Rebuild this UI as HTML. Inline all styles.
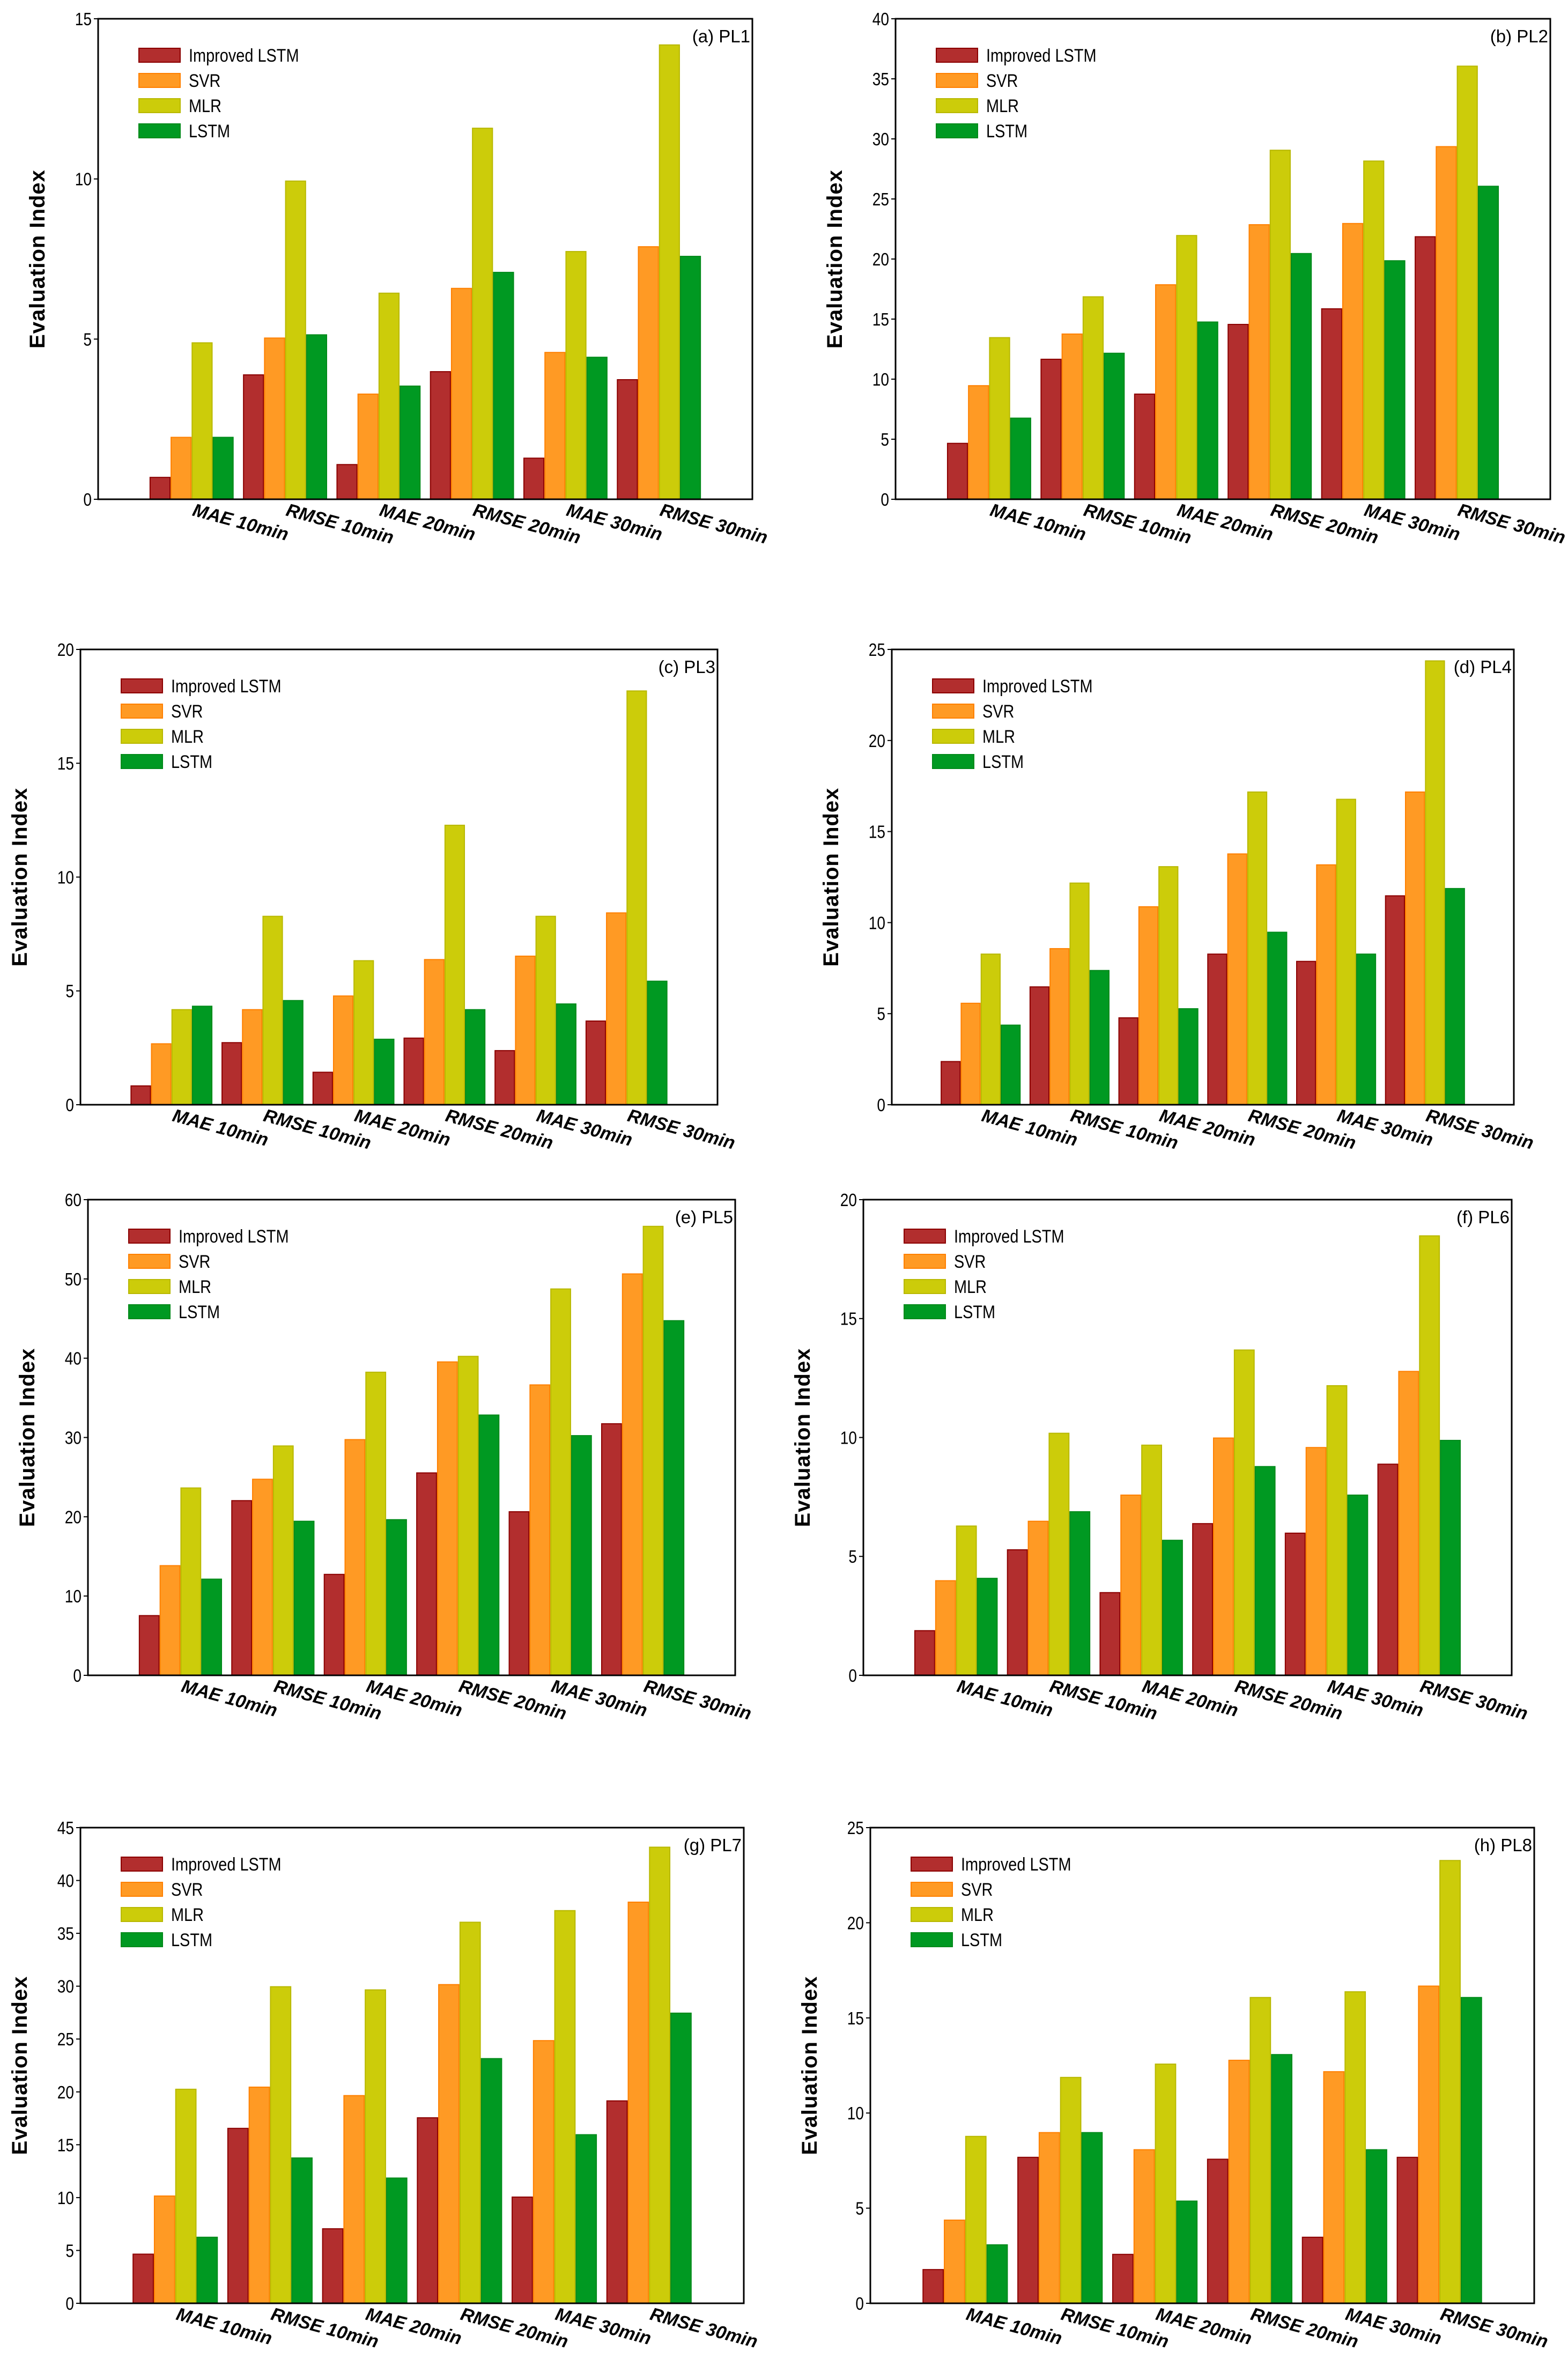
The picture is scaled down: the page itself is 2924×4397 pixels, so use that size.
<!DOCTYPE html>
<html><head><meta charset="utf-8">
<style>
html,body{margin:0;padding:0;background:#fff;}
svg{display:block;}
text{font-family:"Liberation Sans",sans-serif;}
</style></head>
<body>
<svg id="chart" width="2924" height="4397" viewBox="0 0 2924 4397" xmlns="http://www.w3.org/2000/svg"></svg>
<script>
const categories = ["MAE 10min","RMSE 10min","MAE 20min","RMSE 20min","MAE 30min","RMSE 30min"];
const seriesNames = ["Improved LSTM","SVR","MLR","LSTM"];
const panelTitles = ["(a) PL1","(b) PL2","(c) PL3","(d) PL4","(e) PL5","(f) PL6","(g) PL7","(h) PL8"];
const yMax = [15,40,20,25,60,20,45,25];
const yStep = [5,5,5,5,10,5,5,5];
const improvedLSTM = [
 [0.7,3.9,1.1,4.0,1.3,3.75],
 [4.7,11.7,8.8,14.6,15.9,21.9],
 [0.85,2.75,1.45,2.95,2.4,3.7],
 [2.4,6.5,4.8,8.3,7.9,11.5],
 [7.6,22.1,12.8,25.6,20.7,31.8],
 [1.9,5.3,3.5,6.4,6.0,8.9],
 [4.7,16.6,7.1,17.6,10.1,19.2],
 [1.8,7.7,2.6,7.6,3.5,7.7]];
const svr = [
 [1.95,5.05,3.3,6.6,4.6,7.9],
 [9.5,13.8,17.9,22.9,23.0,29.4],
 [2.7,4.2,4.8,6.4,6.55,8.45],
 [5.6,8.6,10.9,13.8,13.2,17.2],
 [13.9,24.8,29.8,39.6,36.7,50.7],
 [4.0,6.5,7.6,10.0,9.6,12.8],
 [10.2,20.5,19.7,30.2,24.9,38.0],
 [4.4,9.0,8.1,12.8,12.2,16.7]];
const mlr = [
 [4.9,9.95,6.45,11.6,7.75,14.2],
 [13.5,16.9,22.0,29.1,28.2,36.1],
 [4.2,8.3,6.35,12.3,8.3,18.2],
 [8.3,12.2,13.1,17.2,16.8,24.4],
 [23.7,29.0,38.3,40.3,48.8,56.7],
 [6.3,10.2,9.7,13.7,12.2,18.5],
 [20.3,30.0,29.7,36.1,37.2,43.2],
 [8.8,11.9,12.6,16.1,16.4,23.3]];
const lstm = [
 [1.95,5.15,3.55,7.1,4.45,7.6],
 [6.8,12.2,14.8,20.5,19.9,26.1],
 [4.35,4.6,2.9,4.2,4.45,5.45],
 [4.4,7.4,5.3,9.5,8.3,11.9],
 [12.2,19.5,19.7,32.9,30.3,44.8],
 [4.1,6.9,5.7,8.8,7.6,9.9],
 [6.3,13.8,11.9,23.2,16.0,27.5],
 [3.1,9.0,5.4,13.1,8.1,16.1]];

// layout (pixel frames of each panel's plot area)
const frames = [
 {l:183,r:1403,t:35,b:931},{l:1670,r:2891,t:35,b:931},
 {l:150,r:1338,t:1211,b:2060},{l:1663,r:2823,t:1211,b:2060},
 {l:164,r:1371,t:2237,b:3124},{l:1610,r:2819,t:2237,b:3124},
 {l:150,r:1387,t:3408,b:4295},{l:1623,r:2861,t:3408,b:4295}];
const fills = ["#b22e2e","#ff9a24","#cccc0a","#009922"];
const strokes = ["#8b0000","#ff8000","#b8b800","#008a1a"];
const NS = "http://www.w3.org/2000/svg";
const svg = document.getElementById('chart');
function mk(tag, attrs, parent){const e=document.createElementNS(NS,tag);for(const k in attrs)e.setAttribute(k,attrs[k]);(parent||svg).appendChild(e);return e;}

const allSeries=[improvedLSTM,svr,mlr,lstm];
for(let p=0;p<8;p++){
  const f=frames[p];
  const g=mk('g',{});
  
  
  const xs=v=>f.l+(f.r-f.l)*v/7;
  const ys=v=>f.b-(f.b-f.t)*v/yMax[p];
  const bw=(f.r-f.l)/7*0.225;
  // bars
  for(let s=0;s<4;s++){
    for(let c=0;c<6;c++){
      const v=allSeries[s][p][c];
      const x0=xs(c+1)-2*bw+s*bw;
      const r=mk('rect',{x:x0+1,y:ys(v)+1,width:bw-2,height:Math.max(0,f.b-ys(v)-1),fill:fills[s],stroke:strokes[s],'stroke-width':2},g);
      
      
    }
  }
  // frame
  const fr=mk('rect',{x:f.l,y:f.t,width:f.r-f.l,height:f.b-f.t,fill:'none',stroke:'#000','stroke-width':3},g);
  
  
  // y ticks
  for(let v=0;v<=yMax[p];v+=yStep[p]){
    const y=ys(v);
    const tk=mk('line',{x1:f.l-8,x2:f.l,y1:y,y2:y,stroke:'#000','stroke-width':2},g);
    
    
    const t=mk('text',{x:f.l-12,y:y+12,'text-anchor':'end','font-size':33,fill:'#000',transform:`translate(${f.l-12},0) scale(0.85,1) translate(${-(f.l-12)},0)`},g);
    t.textContent=String(v);
    
    
  }
  // x labels
  for(let c=0;c<6;c++){
    const x=xs(c+1), y=f.b+30;
    const t=mk('text',{x:x,y:y,'font-size':34,'font-weight':'bold','font-style':'italic',fill:'#000',transform:`rotate(15 ${x} ${y})`},g);
    t.textContent=categories[c];
    
    
  }
  // y title
  const cy=(f.t+f.b)/2, cx=f.l-100;
  const yt=mk('text',{x:cx,y:cy,'text-anchor':'middle','font-size':40,'font-weight':'bold',fill:'#000','letter-spacing':1,transform:`rotate(-90 ${cx} ${cy})`},g);
  yt.textContent="Evaluation Index";
  
  
  // panel title
  const pt=mk('text',{x:f.r-4,y:f.t+44,'text-anchor':'end','font-size':33,fill:'#000'},g);
  pt.textContent=panelTitles[p];
  
  
  // legend
  for(let s=0;s<4;s++){
    const ly=f.t+55+s*47;
    const sw=mk('rect',{x:f.l+76,y:ly,width:77,height:26,fill:fills[s],stroke:strokes[s],'stroke-width':2},g);
    
    
    const lx=f.l+169;
    const lt=mk('text',{x:lx,y:ly+25,'font-size':34,fill:'#000',transform:`translate(${lx},0) scale(0.85,1) translate(${-lx},0)`},g);
    lt.textContent=seriesNames[s];
    
    
  }
}
</script>
</body></html>
